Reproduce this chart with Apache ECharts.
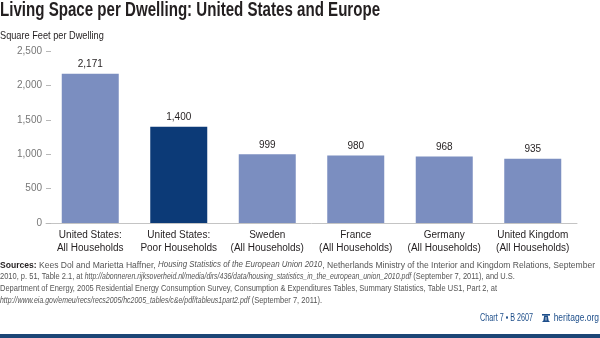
<!DOCTYPE html>
<html>
<head>
<meta charset="utf-8">
<script src="https://cdn.jsdelivr.net/npm/echarts@6/dist/echarts.min.js"></script>
<style>
  html, body { margin: 0; padding: 0; background: #fff; }
  #chart { width: 600px; height: 338px; }
</style>
</head>
<body>
<div id="chart"></div>
<script>
// Living space per dwelling, square feet
const categories = [
  'United States:\nAll Households',
  'United States:\nPoor Households',
  'Sweden\n(All Households)',
  'France\n(All Households)',
  'Germany\n(All Households)',
  'United Kingdom\n(All Households)'
];
const squareFeet = [2171, 1400, 999, 980, 968, 935];
const highlighted = [false, true, false, false, false, false];
const yTicks = [0, 500, 1000, 1500, 2000, 2500];

const FONT = '"Liberation Sans", Arial, sans-serif';
const LIGHT = '#7b8ec0';
const DARK = '#0c3a77';
const NAVY = '#1d4e8a';

const fmt = v => String(v).replace(/\B(?=(\d{3})+(?!\d))/g, ',');

const chart = echarts.init(document.getElementById('chart'), null, { renderer: 'canvas' });

// source note, one entry per printed line: [style, text] runs
const sourceLines = [
  [['b', 'Sources: '], ['n', 'Kees Dol and Marietta Haffner, '], ['i', 'Housing Statistics of the European Union 2010'], ['n', ', Netherlands Ministry of the Interior and Kingdom Relations, September']],
  [['n', '2010, p. 51, Table 2.1, at '], ['i', 'http://abonneren.rijksoverheid.nl/media/dirs/436/data/housing_statistics_in_the_european_union_2010.pdf'], ['n', ' (September 7, 2011), and U.S.']],
  [['n', 'Department of Energy, 2005 Residential Energy Consumption Survey, Consumption & Expenditures Tables, Summary Statistics, Table US1, Part 2, at']],
  [['i', 'http://www.eia.gov/emeu/recs/recs2005/hc2005_tables/c&e/pdf/tableus1part2.pdf'], ['n', ' (September 7, 2011).']]
];
const sourceLineScale = [0.90, 0.79, 0.79, 0.79];
const esc = s => s.replace(/[{}|]/g, '');
const sourceRich = {
  b: { fontFamily: FONT, fontSize: 9.5, fontWeight: 'bold', fill: '#231f20' },
  n: { fontFamily: FONT, fontSize: 9.5, fill: '#555' },
  i: { fontFamily: FONT, fontSize: 8.8, fontStyle: 'italic', fill: '#555' }
};
const sourceGraphics = sourceLines.map((line, i) => ({
  type: 'text', x: 0, y: 260 + i * 11.8, scaleX: sourceLineScale[i],
  style: {
    text: line.map(([k, t]) => '{' + k + '|' + esc(t) + '}').join(''),
    verticalAlign: 'top', rich: sourceRich
  }
}));

const option = {
  animation: false,
  backgroundColor: '#fff',
  grid: { left: 46, right: 23, top: 51, bottom: 115, containLabel: false },
  xAxis: {
    type: 'category',
    data: categories,
    axisLine: { show: true, lineStyle: { color: '#c4c4c4', width: 1 } },
    axisTick: { show: false },
    axisLabel: { fontFamily: FONT, fontSize: 10, color: '#231f20', lineHeight: 13, margin: 6, interval: 0 }
  },
  yAxis: {
    type: 'value',
    min: yTicks[0], max: yTicks[yTicks.length - 1], interval: yTicks[1] - yTicks[0],
    axisLine: { show: false },
    axisTick: { show: true, inside: true, length: 5, lineStyle: { color: '#b8b8b8' } },
    splitLine: { show: false },
    axisLabel: { fontFamily: FONT, fontSize: 10, color: '#777', margin: 4, formatter: v => fmt(v) }
  },
  series: [{
    type: 'bar',
    barWidth: 57,
    data: squareFeet.map((v, i) => ({ value: v, itemStyle: { color: highlighted[i] ? DARK : LIGHT } })),
    label: {
      show: true, position: 'top', distance: 4,
      fontFamily: FONT, fontSize: 10, fontWeight: 500, color: '#231f20',
      formatter: p => fmt(p.value)
    }
  }],
  graphic: [
    {
      // headline, condensed horizontally
      type: 'text', x: 0, y: 0, scaleX: 0.755,
      style: { text: 'Living Space per Dwelling: United States and Europe', font: 'bold 20px ' + FONT, fill: '#231f20', verticalAlign: 'top' }
    },
    {
      type: 'text', x: 0, y: 30, scaleX: 0.8,
      style: { text: 'Square Feet per Dwelling', font: '11.5px ' + FONT, fill: '#231f20', verticalAlign: 'top' }
    },
    ...sourceGraphics,
    {
      type: 'text', x: 533, y: 313, scaleX: 0.72,
      style: { text: 'Chart 7 \u2022 B 2607', font: '10px ' + FONT, fill: NAVY, align: 'right', verticalAlign: 'top' }
    },
    {
      // small bell mark between the chart number and the site name
      type: 'group', x: 542, y: 314,
      children: [
        { type: 'rect', shape: { x: 0, y: 0, width: 8, height: 1.6 }, style: { fill: NAVY } },
        { type: 'polygon', shape: { points: [[2.2, 1.6], [5.8, 1.6], [6.6, 6.5], [8, 8], [0, 8], [1.4, 6.5]] }, style: { fill: NAVY } },
        { type: 'rect', shape: { x: 3.6, y: 3, width: 0.8, height: 3.5 }, style: { fill: '#fff' } }
      ]
    },
    {
      type: 'text', x: 599, y: 313, scaleX: 0.85,
      style: { text: 'heritage.org', font: '10px ' + FONT, fill: NAVY, align: 'right', verticalAlign: 'top' }
    },
    {
      type: 'rect', x: 0, y: 334, shape: { width: 600, height: 4 },
      style: { fill: '#1c4676' }
    }
  ]
};

chart.setOption(option);
</script>
</body>
</html>
